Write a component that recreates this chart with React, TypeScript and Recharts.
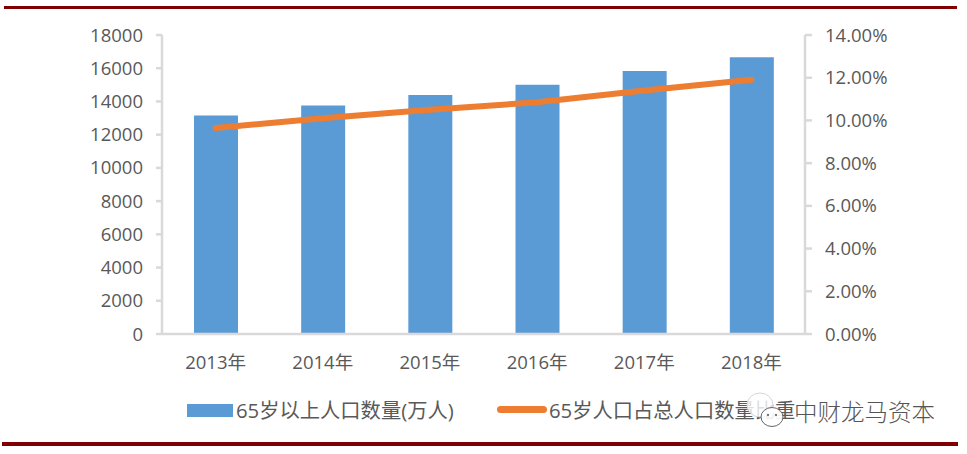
import React from "react";
import { ComposedChart, Bar, Line, XAxis, YAxis, Legend } from "recharts";

const categories = ["2013年", "2014年", "2015年", "2016年", "2017年", "2018年"];
const population = [13161, 13755, 14386, 15003, 15831, 16658];
const share = [9.65, 10.1, 10.5, 10.85, 11.4, 11.9];
const leftTicks = [0, 2000, 4000, 6000, 8000, 10000, 12000, 14000, 16000, 18000];
const rightTicks = [0, 2, 4, 6, 8, 10, 12, 14];
const barName = "65岁以上人口数量(万人)";
const lineName = "65岁人口占总人口数量比重";
const watermark = "中财龙马资本";

const data = categories.map((c, i) => ({ c, population: population[i], share: share[i] }));

const FONT = '"Open Sans", "Noto Sans CJK SC", sans-serif';
const TEXT = "#595959";
const AXIS = "#d9d9d9";
const RULE = "#7f0000";
const tickStyle = { fill: TEXT, fontSize: 18.5, fontFamily: FONT };
const axisLine = { stroke: AXIS, strokeWidth: 2.5 };
const tickLine = { stroke: AXIS, strokeWidth: 2.5 };

function LegendContent() {
  const label: React.CSSProperties = {
    position: "absolute",
    top: 0,
    fontSize: 20.3,
    lineHeight: "24px",
    fontFamily: FONT,
    color: TEXT,
    whiteSpace: "nowrap",
  };
  return (
    <div style={{ position: "relative", width: 967, height: 24 }}>
      <div style={{ position: "absolute", left: 187, top: 6, width: 46, height: 13, background: "#5b9bd5" }} />
      <div style={{ ...label, left: 236 }}>{barName}</div>
      <div style={{ position: "absolute", left: 497, top: 8, width: 50, height: 7, borderRadius: 4, background: "#ed7d31" }} />
      <div style={{ ...label, left: 549 }}>{lineName}</div>
    </div>
  );
}

export default function App() {
  return (
    <div style={{ position: "absolute", left: 0, top: 0, width: 967, height: 454, background: "#fff" }}>
      <ComposedChart
        width={967}
        height={454}
        data={data}
        margin={{ top: 35, right: 0, bottom: 56, left: 0 }}
      >
        <XAxis
          dataKey="c"
          height={40}
          tick={tickStyle}
          axisLine={axisLine}
          tickLine={false}
          tickMargin={16}
        />
        <YAxis
          yAxisId="left"
          width={162}
          domain={[0, 18000]}
          ticks={leftTicks}
          interval={0}
          tick={tickStyle}
          axisLine={axisLine}
          tickLine={tickLine}
          tickSize={6}
          tickMargin={13}
        />
        <YAxis
          yAxisId="right"
          orientation="right"
          width={162}
          domain={[0, 14]}
          ticks={rightTicks}
          interval={0}
          tickFormatter={(v: number) => v.toFixed(2) + "%"}
          tick={tickStyle}
          axisLine={axisLine}
          tickLine={tickLine}
          tickSize={7}
          tickMargin={13}
        />
        <Bar yAxisId="left" dataKey="population" name={barName} fill="#5b9bd5" barSize={44} isAnimationActive={false} />
        <Line
          yAxisId="right"
          dataKey="share"
          name={lineName}
          stroke="#ed7d31"
          strokeWidth={6}
          strokeLinecap="round"
          dot={false}
          isAnimationActive={false}
        />
        <Legend content={<LegendContent />} wrapperStyle={{ left: 0, top: 398, width: 967 }} />
      </ComposedChart>

      <div style={{ position: "absolute", left: 4, top: 6, width: 953, height: 3, background: RULE }} />
      <div style={{ position: "absolute", left: 2, top: 442, width: 956, height: 4, background: RULE }} />

      <svg style={{ position: "absolute", left: 740, top: 385 }} width={50} height={50}>
        <ellipse cx="20" cy="20" rx="13" ry="12" fill="#fff" fillOpacity={0.8} stroke="#d5d5d5" strokeWidth={1} />
        <ellipse cx="32" cy="32" rx="11" ry="9.5" fill="#fff" fillOpacity={0.9} stroke="#666" strokeWidth={1} />
        <circle cx="28" cy="30" r="1.2" fill="#777" />
        <circle cx="36" cy="30" r="1.2" fill="#777" />
      </svg>
      <div
        style={{
          position: "absolute",
          left: 794,
          top: 396,
          fontSize: 23.5,
          lineHeight: "30px",
          fontFamily: '"Noto Sans CJK SC", sans-serif',
          fontWeight: 300,
          color: "#555",
          whiteSpace: "nowrap",
          textShadow: "0 0 1px #fff",
        }}
      >
        {watermark}
      </div>
    </div>
  );
}
